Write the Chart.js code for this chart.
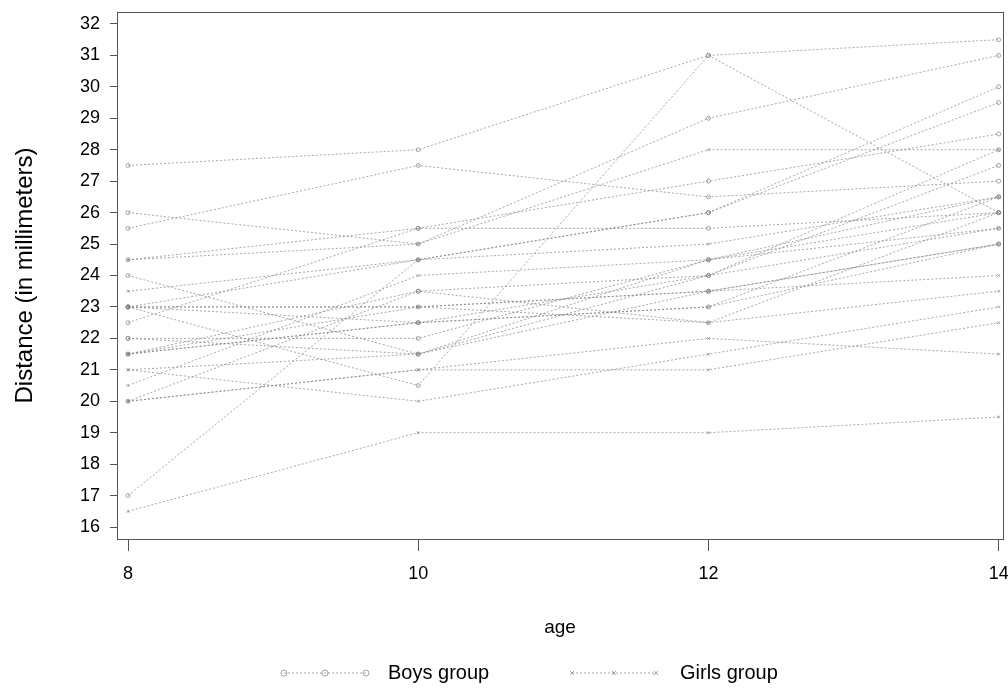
<!DOCTYPE html>
<html>
<head>
<meta charset="utf-8">
<script src="https://cdn.jsdelivr.net/npm/chart.js@4/dist/chart.umd.min.js"></script>
<style>
  html, body { margin: 0; padding: 0; background: #fff; }
  #wrap { width: 1008px; height: 689px; }
</style>
</head>
<body>
<div id="wrap"><canvas id="chart"></canvas></div>
<script>
// ages measured
const ages = [8, 10, 12, 14];

// boys, one row per subject
const boyIds = ['M01','M02','M03','M04','M05','M06','M07','M08','M09','M10','M11','M12','M13','M14','M15','M16'];
const boys = [
  [26, 25, 29, 31],
  [21.5, 22.5, 23, 26.5],
  [23, 22.5, 24, 27.5],
  [25.5, 27.5, 26.5, 27],
  [20, 23.5, 22.5, 26],
  [24.5, 25.5, 27, 28.5],
  [22, 22, 24.5, 26.5],
  [24, 21.5, 24.5, 25.5],
  [23, 20.5, 31, 26],
  [27.5, 28, 31, 31.5],
  [23, 23, 23.5, 25],
  [21.5, 23.5, 24, 28],
  [17, 24.5, 26, 29.5],
  [22.5, 25.5, 25.5, 26],
  [23, 24.5, 26, 30],
  [22, 21.5, 23.5, 25]
];

// girls, one row per subject
const girlIds = ['F01','F02','F03','F04','F05','F06','F07','F08','F09','F10','F11'];
const girls = [
  [21, 20, 21.5, 23],
  [21, 21.5, 24, 25.5],
  [20.5, 24, 24.5, 26],
  [23.5, 24.5, 25, 26.5],
  [21.5, 23, 22.5, 23.5],
  [20, 21, 21, 22.5],
  [21.5, 22.5, 23, 25],
  [23, 23, 23.5, 24],
  [20, 21, 22, 21.5],
  [16.5, 19, 19, 19.5],
  [24.5, 25, 28, 28]
];

const xTicks = [8, 10, 12, 14];
const yTicks = [16, 17, 18, 19, 20, 21, 22, 23, 24, 25, 26, 27, 28, 29, 30, 31, 32];

const lineColor = 'rgba(130,130,130,0.7)';
const fontFam = '"Liberation Sans", Arial, sans-serif';

function makeSet(id, vals, style) {
  return {
    label: id,
    data: ages.map((a, i) => ({ x: a, y: vals[i] })),
    borderColor: lineColor,
    backgroundColor: 'rgba(0,0,0,0)',
    borderWidth: 1,
    borderDash: [2, 2],
    pointStyle: style,
    pointRadius: 2,
    pointBorderWidth: 1,
    pointBorderColor: lineColor,
    showLine: true,
    tension: 0
  };
}

const datasets = [];
boys.forEach((v, i) => datasets.push(makeSet(boyIds[i], v, 'circle')));
girls.forEach((v, i) => datasets.push(makeSet(girlIds[i], v, 'crossRot')));

// frame round the plot and the bottom legend
const framePlugin = {
  id: 'frame',
  afterDraw(chart) {
    const ctx = chart.ctx;
    const a = chart.chartArea;
    ctx.save();
    ctx.strokeStyle = '#555';
    ctx.lineWidth = 1;
    ctx.strokeRect(a.left + 0.5, a.top + 0.5, a.right - a.left, a.bottom - a.top);

    // legend
    const y = 673;
    const items = [
      { x0: 284, x1: 366, tx: 388, text: 'Boys group', style: 'circle' },
      { x0: 572, x1: 656, tx: 680, text: 'Girls group', style: 'crossRot' }
    ];
    items.forEach(it => {
      ctx.strokeStyle = lineColor;
      ctx.setLineDash([2, 2]);
      ctx.beginPath();
      ctx.moveTo(it.x0, y);
      ctx.lineTo(it.x1, y);
      ctx.stroke();
      ctx.setLineDash([]);
      const opts = { pointStyle: it.style, radius: 3, borderWidth: 1 };
      [it.x0, (it.x0 + it.x1) / 2, it.x1].forEach(px => {
        ctx.strokeStyle = lineColor;
        ctx.fillStyle = 'rgba(0,0,0,0)';
        Chart.helpers.drawPoint(ctx, opts, px, y);
      });
      ctx.fillStyle = '#000';
      ctx.font = '20px ' + fontFam;
      ctx.textBaseline = 'middle';
      ctx.textAlign = 'left';
      ctx.fillText(it.text, it.tx, y);
    });
    ctx.restore();
  }
};

new Chart(document.getElementById('chart'), {
  type: 'scatter',
  data: { datasets: datasets },
  plugins: [framePlugin],
  options: {
    responsive: true,
    maintainAspectRatio: false,
    animation: false,
    layout: { padding: { left: 0, right: 5, top: 12, bottom: 50 } },
    plugins: {
      legend: { display: false },
      tooltip: { enabled: false }
    },
    scales: {
      x: {
        type: 'linear',
        min: 7.924,
        max: 14.03,
        afterBuildTicks: s => { s.ticks = xTicks.map(v => ({ value: v })); },
        afterFit: s => { s.height = 100; s.paddingLeft = 0; s.paddingRight = 0; },
        ticks: {
          color: '#000',
          font: { family: fontFam, size: 18 },
          padding: 12,
          maxRotation: 0
        },
        grid: { drawOnChartArea: false, tickLength: 12, color: '#555' },
        border: { display: false },
        title: {
          display: true,
          text: 'age',
          color: '#000',
          font: { family: fontFam, size: 19 },
          padding: { top: 0, bottom: 0 }
        }
      },
      y: {
        type: 'linear',
        min: 15.62,
        max: 32.38,
        afterBuildTicks: s => { s.ticks = yTicks.map(v => ({ value: v })); },
        afterFit: s => { s.width = 117; s.paddingTop = 0; s.paddingBottom = 0; },
        ticks: {
          color: '#000',
          font: { family: fontFam, size: 18 },
          padding: 10
        },
        grid: { drawOnChartArea: false, tickLength: 7, color: '#555' },
        border: { display: false },
        title: {
          display: true,
          text: 'Distance (in millimeters)',
          color: '#000',
          font: { family: fontFam, size: 24 },
          padding: { top: 11, bottom: 0 }
        }
      }
    }
  }
});
</script>
</body>
</html>
